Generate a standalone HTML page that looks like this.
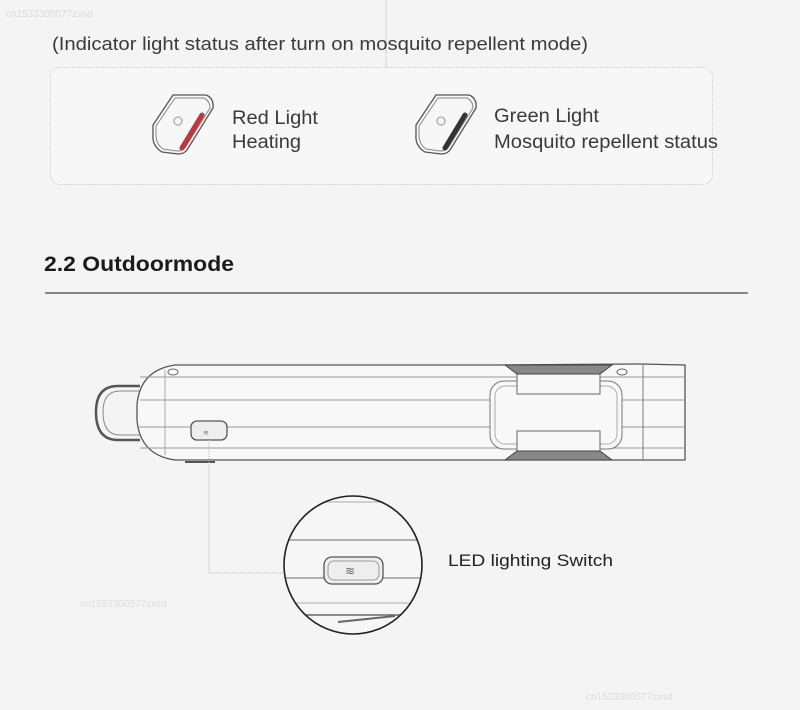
<!DOCTYPE html>
<html><head><meta charset="utf-8"><style>
html,body{margin:0;padding:0;background:#f4f4f4;}
svg{display:block;}
text{font-family:"Liberation Sans",sans-serif;}
</style></head><body>
<svg width="800" height="710" viewBox="0 0 800 710" xmlns="http://www.w3.org/2000/svg">
<rect width="800" height="710" fill="#f4f4f4"/>
<text x="6" y="17" font-size="10" fill="#dcdcdc">cn1533300577zxsd</text>
<line x1="386" y1="0" x2="386" y2="70" stroke="#aaa" stroke-width="0.8" stroke-dasharray="1,1"/>
<text x="52" y="50" font-size="18" fill="#3a3a3a" textLength="536" lengthAdjust="spacingAndGlyphs">(Indicator light status after turn on mosquito repellent mode)</text>
<rect x="50.5" y="67.5" width="662" height="117" rx="10" fill="#f7f7f7" stroke="#ccc" stroke-dasharray="1.5,1.5"/>
<g id="ic" fill="none" stroke="#555" stroke-linejoin="round">
<path d="M173,95 L206,95 Q214,98 213,108 L187,150 Q184,154 178,154 L162,152 Q152,146 153,135 L153,125 Z" stroke-width="1.3"/>
<path d="M175,98 L204,98 Q210,101 210,108 L185,148 Q182,151 177,151 L163,149 Q156,144 156,135 L156,126 Z" stroke-width="1" stroke="#888"/>
<circle cx="178" cy="121" r="4" stroke="#aaa" stroke-width="1.3"/>
</g>
<line x1="202" y1="115" x2="182" y2="148" stroke="#c0363a" stroke-width="5" stroke-linecap="round"/>
<use href="#ic" x="263" y="0"/>
<line x1="465" y1="115" x2="445" y2="148" stroke="#333" stroke-width="5" stroke-linecap="round"/>
<text x="232" y="124" font-size="19" fill="#3a3a3a" textLength="86" lengthAdjust="spacingAndGlyphs">Red Light</text>
<text x="232" y="148" font-size="19" fill="#3a3a3a" textLength="69" lengthAdjust="spacingAndGlyphs">Heating</text>
<text x="494" y="122" font-size="19" fill="#3a3a3a" textLength="105" lengthAdjust="spacingAndGlyphs">Green Light</text>
<text x="494" y="148" font-size="19" fill="#3a3a3a" textLength="224" lengthAdjust="spacingAndGlyphs">Mosquito repellent status</text>
<text x="44" y="271" font-size="21" font-weight="bold" fill="#1a1a1a" textLength="190" lengthAdjust="spacingAndGlyphs">2.2  Outdoormode</text>
<line x1="45" y1="293" x2="748" y2="293" stroke="#444" stroke-width="1.3"/>
<g fill="none" stroke="#666" stroke-width="1">
<path d="M140,386 L118,386 Q96,386 96,412 Q96,440 118,440 L140,440" stroke-width="2.5" stroke="#555"/>
<path d="M140,391 L120,391 Q103,391 103,412 Q103,435 120,435 L140,435" stroke="#888"/>
<path d="M175,365 L500,365 L640,364 L685,365 L685,460 L640,460 L500,460 L175,460 Q140,455 137,420 L137,405 Q140,370 175,365 Z" fill="#f8f8f8" stroke="#555" stroke-width="1.3"/>
<line x1="140" y1="377" x2="685" y2="377" stroke="#999"/>
<line x1="140" y1="400" x2="685" y2="400" stroke="#999"/>
<line x1="137" y1="427" x2="685" y2="427" stroke="#999"/>
<line x1="140" y1="448" x2="685" y2="448" stroke="#999"/>
<line x1="165" y1="370" x2="165" y2="455" stroke="#aaa"/>
<line x1="643" y1="365" x2="643" y2="460" stroke="#777"/>
<rect x="490" y="381" width="132" height="68" rx="14" fill="#f8f8f8" stroke="#777"/>
<rect x="495" y="386" width="122" height="58" rx="10" stroke="#aaa"/>
<rect x="517" y="365" width="83" height="29" fill="#f8f8f8" stroke="#666"/>
<rect x="517" y="431" width="83" height="29" fill="#f8f8f8" stroke="#666"/>
<path d="M505,365 L612,365 L600,374 L517,374 Z" fill="#888" stroke="#444"/>
<path d="M505,460 L612,460 L600,451 L517,451 Z" fill="#888" stroke="#444"/>
<rect x="191" y="421" width="36" height="19" rx="6" stroke="#555" stroke-width="1.3" fill="#eee"/>
<ellipse cx="173" cy="372" rx="5" ry="3"/>
<ellipse cx="622" cy="372" rx="5" ry="3"/>
<path d="M185,462 L215,462" stroke="#555" stroke-width="2"/>
</g>
<text x="203" y="435" font-size="7" fill="#777">≋</text>
<path d="M209,440 L209,573 L285,573" fill="none" stroke="#bbb" stroke-width="1" stroke-dasharray="1,1"/>
<clipPath id="cc"><circle cx="353" cy="565" r="69"/></clipPath>
<g clip-path="url(#cc)" fill="none" stroke="#888">
<rect x="280" y="490" width="150" height="150" fill="#f6f6f6" stroke="none"/>
<line x1="280" y1="502" x2="430" y2="502" stroke="#aaa"/>
<line x1="280" y1="540" x2="430" y2="540" stroke="#999" stroke-width="1.5"/>
<line x1="280" y1="578" x2="430" y2="578" stroke="#999" stroke-width="1.5"/>
<line x1="280" y1="603" x2="430" y2="603" stroke="#aaa"/>
<line x1="280" y1="615" x2="430" y2="615" stroke="#666" stroke-width="1.5"/>
<path d="M338,622 L395,616" stroke="#666" stroke-width="2"/>
<rect x="324" y="557" width="59" height="27" rx="8" stroke="#555" stroke-width="1.3" fill="#eee"/>
<rect x="328" y="561" width="51" height="19" rx="6" stroke="#999"/>
</g>
<circle cx="353" cy="565" r="69" fill="none" stroke="#222" stroke-width="1.6"/>
<text x="345" y="575" font-size="12" fill="#666">≋</text>
<text x="448" y="566" font-size="17" fill="#222" textLength="165" lengthAdjust="spacingAndGlyphs">LED lighting Switch</text>
<text x="80" y="607" font-size="10" fill="#dedede">cn1533300577zxsd</text>
<text x="586" y="700" font-size="10" fill="#dcdcdc">cn1533300577zxsd</text>
</svg>
</body></html>
